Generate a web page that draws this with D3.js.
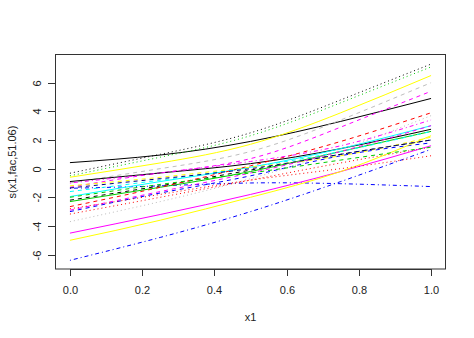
<!DOCTYPE html>
<html>
<head>
<meta charset="utf-8">
<script src="https://cdn.jsdelivr.net/npm/d3@7"></script>
<style>
  html, body { margin: 0; padding: 0; background: #fff; }
  svg { display: block; }
  text { font-family: "Liberation Sans", Arial, sans-serif; fill: #222; }
</style>
</head>
<body>
<svg id="chart" width="474" height="338"></svg>
<script>
// ---- data ----
const xGrid = [0, 0.25, 0.5, 0.75, 1];
const xTicks = [0, 0.2, 0.4, 0.6, 0.8, 1.0];
const yTicks = [-6, -4, -2, 0, 2, 4, 6];
const xLabel = "x1";
const yLabel = "s(x1,fac,51.06)";

// curve values at xGrid for each level of the factor
const curveValues = [
  [0.42, 0.95, 1.9, 3.3, 4.9],
  [-0.32, 1.0, 2.5, 4.8, 7.3],
  [-0.5, 0.8, 2.3, 4.6, 7.1],
  [-0.6, 0.4, 1.7, 3.9, 6.5],
  [-1.0, 0.0, 1.2, 3.4, 6.0],
  [-1.3, -0.3, 0.7, 2.9, 5.4],
  [-0.9, -0.3, 0.35, 1.4, 2.75],
  [-1.37, -1.2, -1.0, -1.05, -1.25],
  [-1.95, -0.9, 0.1, 1.4, 3.0],
  [-2.2, -1.2, -0.1, 1.0, 2.0],
  [-2.3, -1.3, -0.2, 1.2, 2.6],
  [-2.65, -1.3, 0.2, 1.9, 3.9],
  [-2.9, -1.6, -0.3, 1.2, 3.0],
  [-3.0, -1.7, -0.5, 0.9, 1.8],
  [-3.17, -2.0, -0.8, 0.4, 1.5],
  [-3.7, -2.3, -0.7, 1.3, 3.7],
  [-4.5, -3.2, -1.8, -0.2, 1.6],
  [-5.0, -3.6, -2.0, -0.2, 2.3],
  [-6.4, -4.8, -3.0, -0.9, 1.35],
  [-2.0, -1.1, -0.3, 0.6, 1.5],
  [-2.8, -1.8, -0.8, 0.0, 0.9],
  [-1.6, -0.8, 0.1, 1.2, 2.6],
  [-1.2, -0.6, 0.1, 0.9, 2.2],
  [-1.35, -0.7, 0.0, 1.0, 2.0],
  [-1.0, -0.3, 0.5, 1.6, 3.4]
];

// ---- styles (R palette / lty) ----
const curveColors = [
  "#000000", "#000000", "#00CD00", "#FFFF00", "#BEBEBE", "#FF00FF", "#000000", "#0000FF",
  "#00FFFF", "#000000", "#00CD00", "#FF0000", "#FF00FF", "#0000FF", "#FF0000", "#BEBEBE",
  "#FF00FF", "#FFFF00", "#0000FF", "#00CD00", "#FF0000", "#00FFFF", "#FFFF00", "#000080", "#FF00FF"
];
const ltyDash = { solid: null, dashed: "4,4", dotted: "1,3", dotdash: "1,3,4,3", longdash: "7,3", twodash: "2,2,6,2" };
const curveLty = [
  "solid", "dotted", "dotted", "solid", "dashed", "dashed", "solid", "dotdash",
  "solid", "dashed", "solid", "dashed", "dashed", "dashed", "dotted", "dotted",
  "solid", "solid", "dotdash", "dashed", "dotted", "dashed", "dashed", "dashed", "dotdash"
];

// ---- layout ----
const svg = d3.select("#chart");
const W = 474, H = 338;
svg.append("rect").attr("width", W).attr("height", H).attr("fill", "#fff");

const x = d3.scaleLinear().domain([-0.04, 1.04]).range([55.5, 445.5]);
const yMin = -6.45, yMax = 7.4, pad = (yMax - yMin) * 0.04;
const y = d3.scaleLinear().domain([yMin - pad, yMax + pad]).range([269, 54.7]);

const line = d3.line()
  .x((d, i) => x(xGrid[i]))
  .y(d => y(d))
  .curve(d3.curveNatural);

const g = svg.append("g");
curveValues.forEach((vals, k) => {
  g.append("path")
    .attr("d", line(vals))
    .attr("fill", "none")
    .attr("stroke", curveColors[k])
    .attr("stroke-width", 1)
    .attr("stroke-dasharray", ltyDash[curveLty[k]]);
});

// box
svg.append("rect")
  .attr("x", 55.5).attr("y", 54.5)
  .attr("width", 390).attr("height", 214.5)
  .attr("fill", "none").attr("stroke", "#333").attr("stroke-width", 1);

// x axis (R style: ticks from first to last label)
const xAxis = svg.append("g").attr("transform", "translate(0,269)");
xAxis.append("line")
  .attr("x1", Math.round(x(0)) + 0.5).attr("x2", Math.round(x(1)) + 0.5)
  .attr("y1", 0.5).attr("y2", 0.5).attr("stroke", "#333");
xTicks.forEach(t => {
  const px = Math.round(x(t)) + 0.5;
  xAxis.append("line").attr("x1", px).attr("x2", px).attr("y1", 0).attr("y2", 7).attr("stroke", "#333");
  xAxis.append("text").attr("x", px).attr("y", 25).attr("text-anchor", "middle")
    .attr("font-size", 11).text(d3.format(".1f")(t));
});

const yAxis = svg.append("g").attr("transform", "translate(55,0)");
yTicks.forEach(t => {
  const py = Math.round(y(t)) + 0.5;
  yAxis.append("line").attr("x1", -7).attr("x2", 0).attr("y1", py).attr("y2", py).attr("stroke", "#333");
  yAxis.append("text")
    .attr("transform", `translate(-14,${py}) rotate(-90)`)
    .attr("text-anchor", "middle")
    .attr("font-size", 11).text(t);
});

svg.append("text").attr("x", 250.5).attr("y", 321).attr("text-anchor", "middle")
  .attr("font-size", 11).text(xLabel);
svg.append("text")
  .attr("transform", "translate(16,162) rotate(-90)")
  .attr("text-anchor", "middle").attr("font-size", 11).text(yLabel);
</script>
</body>
</html>
